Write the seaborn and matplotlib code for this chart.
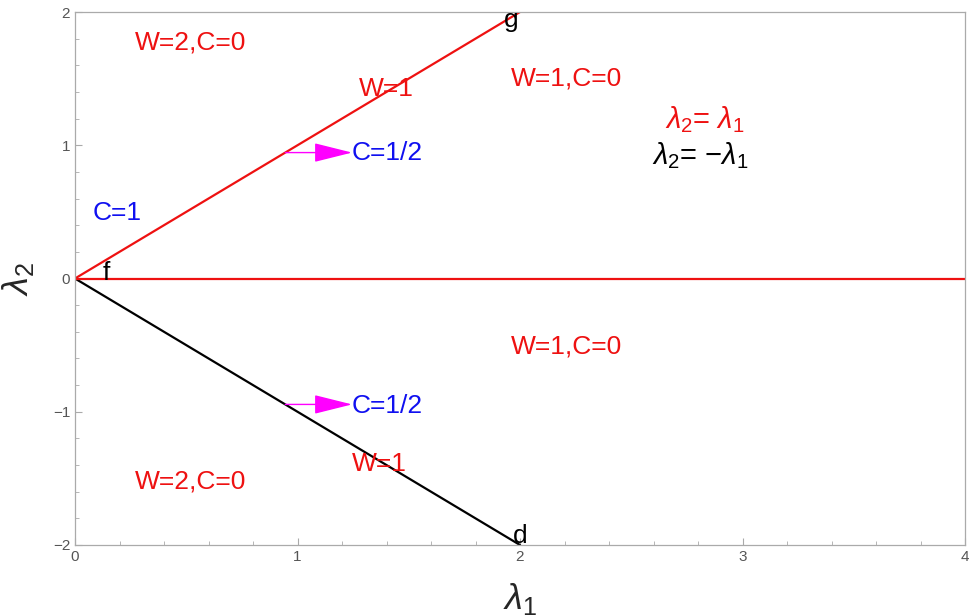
import numpy as np
import pandas as pd
import matplotlib
matplotlib.use('Agg')
import matplotlib.pyplot as plt
import seaborn as sns
from matplotlib.ticker import MultipleLocator

# ---- DATA ----
diag_x = [0, 2]
upper_y = [0, 2]      # lambda2 = lambda1
lower_y = [0, -2]     # lambda2 = -lambda1
axis_x = [0, 4]
axis_y = [0, 0]

red_labels = ['W=2,C=0', 'W=1', 'W=1,C=0', 'W=1,C=0', 'W=2,C=0', 'W=1']
red_x = [0.52, 1.40, 2.21, 2.21, 0.52, 1.37]
red_y = [1.77, 1.42, 1.50, -0.51, -1.52, -1.39]

blue_labels = ['C=1', 'C=1/2', 'C=1/2']
blue_x = [0.19, 1.245, 1.245]
blue_y = [0.49, 0.94, -0.96]

point_labels = ['f', 'g', 'd']
point_x = [0.14, 1.96, 2.00]
point_y = [0.04, 1.94, -1.93]

arrow_start_x = [0.945, 0.945]
arrow_y = [0.945, -0.945]
arrow_end_x = [1.245, 1.245]

lines = pd.concat([
    pd.DataFrame({'x': diag_x, 'y': upper_y, 'line': 'upper'}),
    pd.DataFrame({'x': diag_x, 'y': lower_y, 'line': 'lower'}),
    pd.DataFrame({'x': axis_x, 'y': axis_y, 'line': 'axis'}),
])

# ---- PLOT ----
sns.set_style('ticks')
plt.rcParams['font.family'] = ['Liberation Sans', 'DejaVu Sans']
plt.rcParams['mathtext.fontset'] = 'custom'
plt.rcParams['mathtext.rm'] = 'Liberation Sans'
plt.rcParams['mathtext.it'] = 'Liberation Sans:italic'

RED = '#ee1111'

fig = plt.figure(figsize=(9.69, 6.16), dpi=100)
ax = fig.add_axes([75/969, 71/616, 890/969, 533/616])

sns.lineplot(data=lines, x='x', y='y', hue='line', estimator=None, sort=False,
             palette={'upper': RED, 'lower': 'black', 'axis': RED},
             linewidth=1.6, legend=False, ax=ax)

for x0, x1, y in zip(arrow_start_x, arrow_end_x, arrow_y):
    ax.annotate('', xy=(x1, y), xytext=(x0, y),
                arrowprops=dict(arrowstyle='-|>,head_length=2.4,head_width=0.6',
                                color='#ff00ff', lw=1.0, shrinkA=0, shrinkB=0))

for t, x, y in zip(red_labels, red_x, red_y):
    ax.text(x, y, t, color=RED, fontsize=19, ha='center', va='center')
for t, x, y in zip(blue_labels, blue_x, blue_y):
    ha = 'center' if t == 'C=1' else 'left'
    ax.text(x, y, t, color='#1010f0', fontsize=19, ha=ha, va='center')
for t, x, y in zip(point_labels, point_x, point_y):
    ax.text(x, y, t, color='black', fontsize=19, ha='center', va='center')

ax.text(2.83, 1.19, r'$\lambda_2$= $\lambda_1$', color=RED, fontsize=21,
        ha='center', va='center')
ax.text(2.81, 0.92, r'$\lambda_2$= $-\lambda_1$', color='black', fontsize=21,
        ha='center', va='center')

ax.set_xlim(0, 4)
ax.set_ylim(-2, 2)
ax.xaxis.set_major_locator(MultipleLocator(1))
ax.yaxis.set_major_locator(MultipleLocator(1))
ax.xaxis.set_minor_locator(MultipleLocator(0.2))
ax.yaxis.set_minor_locator(MultipleLocator(0.2))
ax.tick_params(which='both', direction='in', colors='#aaaaaa', labelcolor='#555555',
               labelsize=11)
ax.tick_params(which='major', length=5, width=0.8)
ax.tick_params(which='minor', length=3, width=0.6)
for s in ax.spines.values():
    s.set_color('#aaaaaa')
    s.set_linewidth(0.9)

ax.set_xlabel(r'$\lambda_1$', fontsize=26, labelpad=12)
ax.set_ylabel(r'$\lambda_2$', fontsize=26, labelpad=12, rotation=90)

plt.savefig('out.png', dpi=100)
plt.close()
